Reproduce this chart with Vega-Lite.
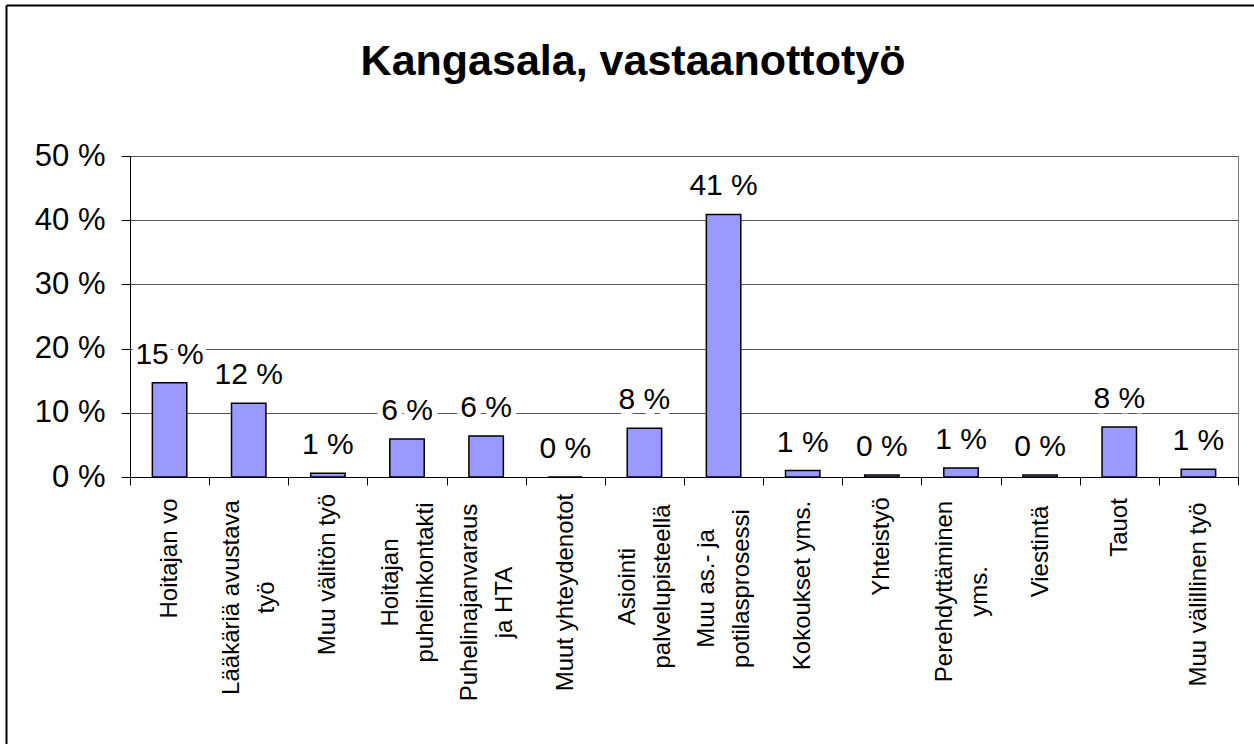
{
  "$schema": "https://vega.github.io/schema/vega-lite/v6.json",
  "autosize": {"type": "none"},
  "width": 1108,
  "height": 321,
  "padding": {"left": 130, "top": 156, "right": 16, "bottom": 267},
  "background": "white",
  "title": {
    "text": "Kangasala, vastaanottotyö",
    "font": "Liberation Sans",
    "fontSize": 43,
    "fontWeight": "bold",
    "color": "black",
    "anchor": "middle",
    "frame": "group",
    "dx": -51,
    "baseline": "alphabetic",
    "offset": -113
  },
  "data": {
    "values": [
      {"category": "Hoitajan vo", "value": 14.7, "label": "15 %"},
      {"category": "Lääkäriä avustava|työ", "value": 11.5, "label": "12 %"},
      {"category": "Muu välitön työ", "value": 0.6, "label": "1 %"},
      {"category": "Hoitajan|puhelinkontakti", "value": 5.9, "label": "6 %"},
      {"category": "Puhelinajanvaraus|ja HTA", "value": 6.4, "label": "6 %"},
      {"category": "Muut yhteydenotot", "value": 0, "label": "0 %"},
      {"category": "Asiointi|palvelupisteellä", "value": 7.6, "label": "8 %"},
      {"category": "Muu as.- ja|potilasprosessi", "value": 40.9, "label": "41 %"},
      {"category": "Kokoukset yms.", "value": 1.0, "label": "1 %"},
      {"category": "Yhteistyö", "value": 0.3, "label": "0 %"},
      {"category": "Perehdyttäminen|yms.", "value": 1.4, "label": "1 %"},
      {"category": "Viestintä", "value": 0.3, "label": "0 %"},
      {"category": "Tauot", "value": 7.8, "label": "8 %"},
      {"category": "Muu välillinen työ", "value": 1.2, "label": "1 %"}
    ]
  },
  "layer": [
    {
      "encoding": {
        "x": {
          "field": "category",
          "type": "nominal",
          "sort": null,
          "scale": {"paddingInner": 0, "paddingOuter": 0},
          "axis": {
            "title": null,
            "labelAngle": 270,
            "labelAlign": "center",
            "labelBaseline": "middle",
            "labelExpr": "datum.value ? split(datum.value, '|') : ''",
            "labelFont": "Liberation Sans",
            "labelFontSize": 24,
            "labelColor": "black",
            "labelLineHeight": 35,
            "labelLimit": 0,
            "labelOverlap": false,
            "labelBound": false,
            "tickBand": "extent",
            "tickSize": 8,
            "tickColor": "black",
            "tickWidth": 1,
            "domainColor": "black",
            "domainWidth": 1,
            "grid": false,
            "labelOffset": {
              "condition": {"test": "datum.value && indexof(datum.value, '|') >= 0", "value": -17},
              "value": 0
            },
            "labelPadding": {
              "condition": [
                {"test": "datum.value === 'Hoitajan vo'", "value": 73},
                {"test": "datum.value === 'Lääkäriä avustava|työ'", "value": 112},
                {"test": "datum.value === 'Muu välitön työ'", "value": 89},
                {"test": "datum.value === 'Hoitajan|puhelinkontakti'", "value": 97},
                {"test": "datum.value === 'Puhelinajanvaraus|ja HTA'", "value": 117},
                {"test": "datum.value === 'Muut yhteydenotot'", "value": 107},
                {"test": "datum.value === 'Asiointi|palvelupisteellä'", "value": 101},
                {"test": "datum.value === 'Muu as.- ja|potilasprosessi'", "value": 103},
                {"test": "datum.value === 'Kokoukset yms.'", "value": 100},
                {"test": "datum.value === 'Yhteistyö'", "value": 61},
                {"test": "datum.value === 'Perehdyttäminen|yms.'", "value": 106},
                {"test": "datum.value === 'Viestintä'", "value": 66},
                {"test": "datum.value === 'Tauot'", "value": 42},
                {"test": "datum.value === 'Muu välillinen työ'", "value": 109}
              ],
              "value": 100
            }
          }
        },
        "y": {
          "field": "value",
          "type": "quantitative",
          "scale": {"domain": [0, 50], "nice": false},
          "axis": {
            "title": null,
            "values": [0, 10, 20, 30, 40, 50],
            "labelExpr": "datum.value + ' %'",
            "labelFont": "Liberation Sans",
            "labelFontSize": 31,
            "labelColor": "black",
            "labelPadding": 16,
            "tickSize": 9,
            "tickColor": "black",
            "tickWidth": 1,
            "domainColor": "black",
            "domainWidth": 1,
            "grid": true,
            "gridColor": "#555555",
            "gridWidth": 1
          }
        }
      },
      "layer": [
        {
          "mark": {"type": "bar", "width": {"band": 0.435}, "fill": "#9999FF", "stroke": "black", "strokeWidth": 1.5}
        },
        {
          "mark": {"type": "text", "baseline": "alphabetic", "dy": -19, "font": "Liberation Sans", "fontSize": 30, "fill": "white", "stroke": "white", "strokeWidth": 11, "strokeJoin": "round"},
          "encoding": {"text": {"field": "label"}}
        },
        {
          "mark": {"type": "text", "baseline": "alphabetic", "dy": -19, "font": "Liberation Sans", "fontSize": 30, "fill": "black"},
          "encoding": {"text": {"field": "label"}}
        }
      ]
    },
    {
      "transform": [{"filter": "datum.value <= 1"}],
      "mark": {"type": "point", "opacity": 0, "size": 1},
      "encoding": {
        "x": {
          "field": "value",
          "type": "quantitative",
          "scale": {"domain": [0, 1], "range": [-124, 1124]},
          "axis": {"orient": "top", "offset": 151, "labels": false, "ticks": false, "grid": false, "title": null, "domainColor": "black", "domainWidth": 2}
        },
        "y": {
          "field": "value",
          "type": "quantitative",
          "scale": {"domain": [0, 1], "range": [588, -151]},
          "axis": {"orient": "left", "offset": 124, "labels": false, "ticks": false, "grid": false, "title": null, "domainColor": "black", "domainWidth": 2}
        }
      }
    }
  ],
  "resolve": {"scale": {"x": "independent", "y": "independent"}, "axis": {"x": "independent", "y": "independent"}},
  "config": {
    "view": {"stroke": "#808080", "strokeWidth": 1}
  }
}
